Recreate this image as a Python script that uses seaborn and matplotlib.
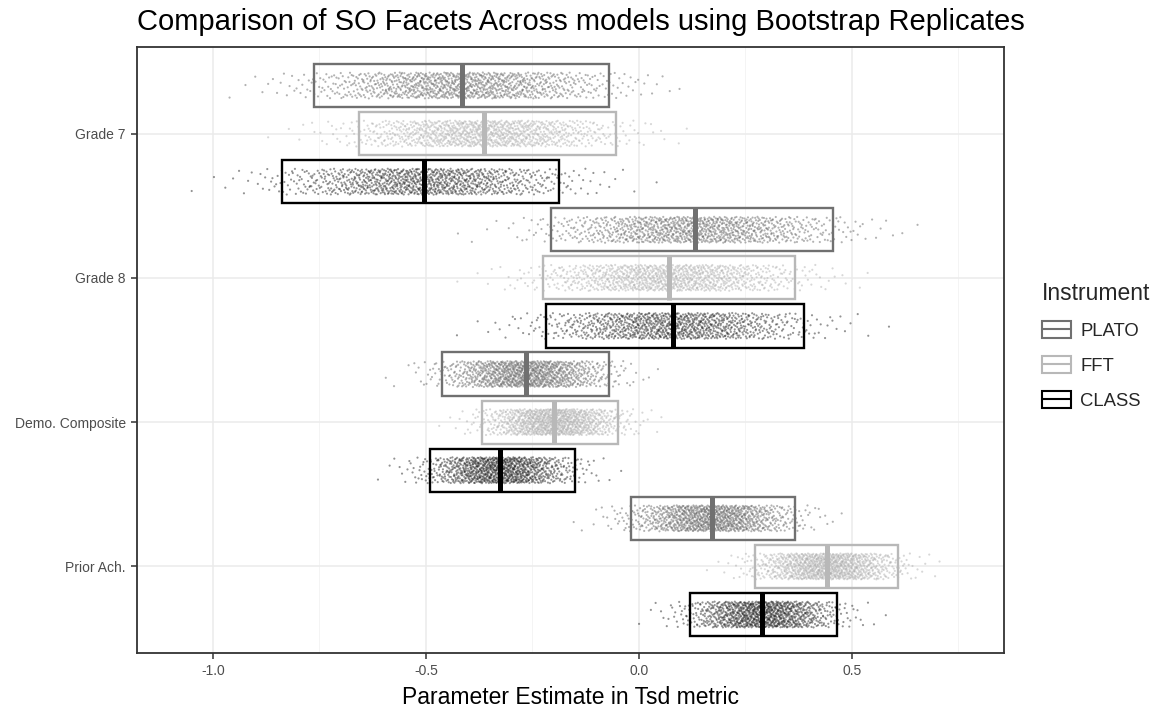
import numpy as np
import pandas as pd
import matplotlib
matplotlib.use("Agg")
import matplotlib.pyplot as plt
import seaborn as sns
from statistics import NormalDist
from matplotlib.lines import Line2D
from matplotlib.patches import Patch
from matplotlib.legend_handler import HandlerTuple

# ---- data -------------------------------------------------------------
facets = ["Grade 7", "Grade 8", "Demo. Composite", "Prior Ach."]
instruments = ["PLATO", "FFT", "CLASS"]

# interval bounds and mean of the bootstrap estimates, one value per facet
plato_lo = [-0.762, -0.207, -0.463, -0.019]
plato_mean = [-0.414, 0.131, -0.265, 0.171]
plato_hi = [-0.070, 0.455, -0.071, 0.367]

fft_lo = [-0.657, -0.225, -0.368, 0.273]
fft_mean = [-0.364, 0.070, -0.200, 0.441]
fft_hi = [-0.054, 0.366, -0.048, 0.608]

class_lo = [-0.838, -0.217, -0.491, 0.120]
class_mean = [-0.504, 0.080, -0.327, 0.290]
class_hi = [-0.188, 0.387, -0.151, 0.465]

n_replicates = 1000

x_ticks = [-1.0, -0.5, 0.0, 0.5]
x_tick_labels = ["-1.0", "-0.5", "0.0", "0.5"]

# ---- styling ----------------------------------------------------------
box_colors = {"PLATO": "#707070", "FFT": "#b8b8b8", "CLASS": "#000000"}
point_colors = {"PLATO": "#555555", "FFT": "#a8a8a8", "CLASS": "#111111"}
dodge = {"PLATO": -1 / 3, "FFT": 0.0, "CLASS": 1 / 3}
box_height = 0.30
jitter_half = 0.09

sns.set_theme(style="white")
plt.rcParams["font.family"] = ["Liberation Sans", "DejaVu Sans"]

summaries = {
    "PLATO": (plato_lo, plato_mean, plato_hi),
    "FFT": (fft_lo, fft_mean, fft_hi),
    "CLASS": (class_lo, class_mean, class_hi),
}


def radical_inverse(i, base):
    f, r = 1.0, 0.0
    while i > 0:
        f /= base
        r += f * (i % base)
        i //= base
    return r


# replicate cloud: normal quantiles spread over each interval (95% = +-1.96 sd),
# positioned with a Halton (2, 3) sequence
nd = NormalDist()
rows = []
k = 0
for inst in instruments:
    lo_s, mu_s, hi_s = summaries[inst]
    for fi, facet in enumerate(facets):
        sd = (hi_s[fi] - lo_s[fi]) / 3.92
        start = 1 + k * 137
        for i in range(start, start + n_replicates):
            u = radical_inverse(i, 2)
            v = radical_inverse(i, 3)
            u = min(max(u, 0.5 / n_replicates), 1 - 0.5 / n_replicates)
            est = mu_s[fi] + sd * nd.inv_cdf(u)
            ypos = fi + dodge[inst] + (v - 0.5) * 2 * jitter_half
            rows.append((facet, inst, est, ypos))
        k += 1
reps = pd.DataFrame(rows, columns=["facet", "instrument", "estimate", "ypos"])

# ---- figure -----------------------------------------------------------
W, H = 1161, 711
fig = plt.figure(figsize=(W / 100, H / 100), dpi=100)
fig.patch.set_facecolor("white")
ax = fig.add_axes([137 / W, 1 - 653 / H, (1004 - 137) / W, (653 - 47) / H])

sns.scatterplot(
    data=reps, x="estimate", y="ypos", hue="instrument",
    palette=point_colors, hue_order=instruments,
    s=2.4, linewidth=0, alpha=0.45, legend=False, ax=ax, zorder=2,
)

for inst in instruments:
    lo_s, mu_s, hi_s = summaries[inst]
    pos = np.arange(len(facets)) + dodge[inst]
    c = box_colors[inst]
    ax.barh(pos, np.array(hi_s) - np.array(lo_s), left=lo_s, height=box_height,
            fill=False, edgecolor=c, linewidth=1.7, zorder=3)
    ax.vlines(mu_s, pos - box_height / 2, pos + box_height / 2, colors=c,
              linewidth=3.6, zorder=4, capstyle="butt")

ax.set_xlim(-1.178, 0.857)
ax.set_ylim(3.6, -0.6)
ax.set_xticks(x_ticks)
ax.set_xticklabels(x_tick_labels)
ax.set_xticks([-0.75, -0.25, 0.25, 0.75], minor=True)
ax.set_yticks(range(len(facets)))
ax.set_yticklabels(facets)

ax.grid(which="major", color="#ebebeb", linewidth=1.1, zorder=0)
ax.grid(which="minor", axis="x", color="#f2f2f2", linewidth=0.6, zorder=0)
ax.set_axisbelow(True)
for sp in ax.spines.values():
    sp.set_color("#333333")
    sp.set_linewidth(1.3)
ax.tick_params(axis="both", which="major", length=4, width=1.1, color="#333333",
               labelcolor="#4d4d4d", labelsize=10, pad=4,
               bottom=True, left=True)
ax.tick_params(axis="both", which="minor", length=0)

ax.set_xlabel("Parameter Estimate in Tsd metric", fontsize=16.5, color="black", labelpad=6)
ax.set_ylabel("")

fig.text(0.5, 1 - 22 / H, "Comparison of SO Facets Across models using Bootstrap Replicates",
         ha="center", va="center", fontsize=21, color="black")

handles = [
    (Patch(facecolor="white", edgecolor=box_colors[i], linewidth=1.5),
     Line2D([0], [0], color=box_colors[i], linewidth=1.5))
    for i in instruments
]
leg = fig.legend(
    handles, instruments, handler_map={tuple: HandlerTuple(ndivide=1)},
    title="Instrument", loc="upper left", bbox_to_anchor=(1042 / W, 1 - 282 / H),
    frameon=False, fontsize=13.3, title_fontsize=16.5, alignment="left",
    handlelength=1.57, handleheight=1.03, handletextpad=0.5, labelspacing=0.88,
    borderpad=0, borderaxespad=0,
)

fig.savefig("out.png", dpi=100, facecolor="white")
